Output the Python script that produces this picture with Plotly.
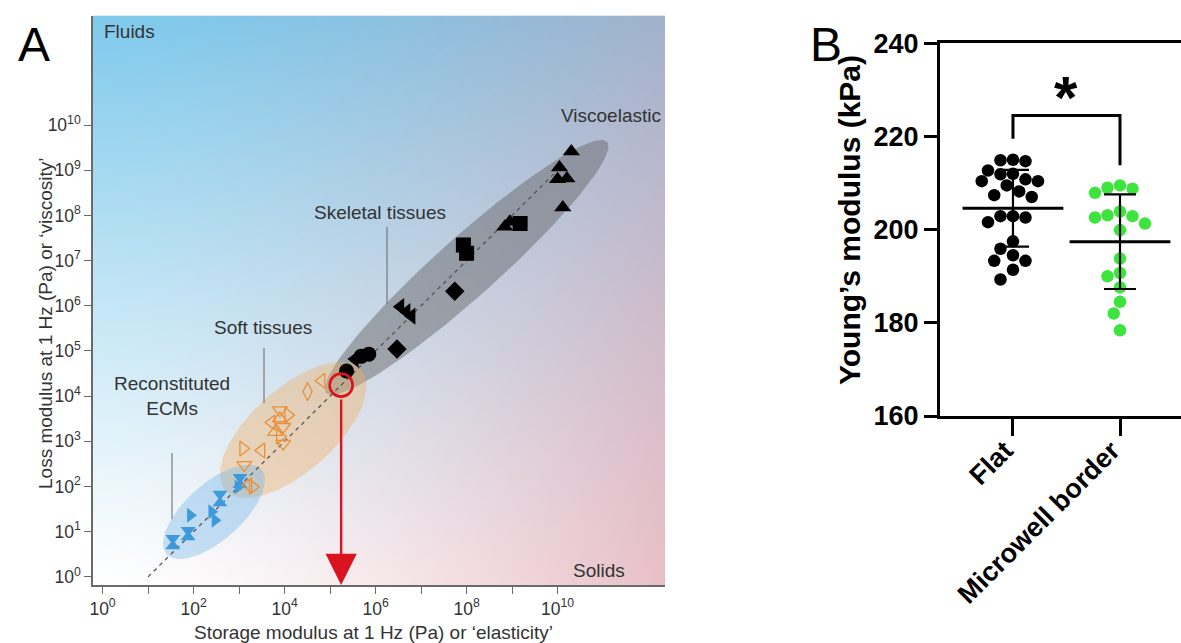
import numpy as np
import plotly.graph_objects as go
import zlib, struct, base64

# ---------------- DATA ----------------
# Panel A: storage modulus G' (Pa) and loss modulus G'' (Pa)
black_x = [2.0e10, 1.1e10, 1.0e10, 1.6e10, 1.3e10, 6.9e8, 8.9e8,
           8.5e7, 1.0e8, 1.5e9,
           5.5e7, 2.95e6,
           3.5e6, 4.8e6, 6.2e6, 3.5e5,
           2.3e5, 4.8e5, 7.1e5]
black_y = [2.6e9, 1.15e9, 6.3e8, 6.6e8, 1.5e8, 5.6e7, 7.2e7,
           2.2e7, 1.45e7, 6.6e7,
           2.1e6, 1.1e5,
           9.5e5, 7.4e5, 5.9e5, 6.6e4,
           3.6e4, 7.6e4, 8.5e4]
black_sym = ["triangle-up"] * 7 + ["square"] * 3 + ["diamond"] * 2 + \
            ["triangle-left"] * 4 + ["circle"] * 3

orange_x = [6.5e4, 3.2e4, 7.9e3, 7.9e3, 1.2e4, 5.2e3, 9.3e3, 6.2e3, 7.9e3,
            9.3e3, 1.23e3, 3.1e3, 1.3e3, 1.6e3, 2.0e3]
orange_y = [2.2e4, 1.26e4, 4.9e3, 3.2e3, 3.8e3, 2.6e3, 2.1e3, 1.6e3, 1.26e3,
            8.9e2, 6.9e2, 6.3e2, 3.0e2, 1.07e2, 9.8e1]
orange_sym = ["triangle-left", "diamond-tall", "triangle-down", "triangle-up",
              "triangle-right", "triangle-left", "triangle-down", "triangle-up",
              "triangle-right", "triangle-down", "triangle-right", "triangle-left",
              "triangle-down", "triangle-left", "triangle-right"]

blue_x = [1.05e3, 1.05e3, 9.5e2, 3.8e2, 3.8e2, 8.5e1, 2.5e2, 2.95e2,
          7.6e1, 7.6e1, 3.5e1, 3.5e1]
blue_y = [1.6e2, 1.1e2, 9.8e1, 6.8e1, 4.3e1, 2.3e1, 2.75e1, 1.8e1,
          1.07e1, 7.6e0, 7.2e0, 4.8e0]
blue_sym = ["triangle-down", "triangle-up", "triangle-right", "triangle-down",
            "triangle-up", "triangle-right", "triangle-right", "triangle-right",
            "triangle-down", "triangle-up", "triangle-down", "triangle-up"]

trend_x = [1.0e1, 1.1e10]
trend_y = [1.0e0, 1.1e9]

highlight_x = [1.75e5]
highlight_y = [1.75e4]

x_tick_vals = [10.0 ** k for k in range(0, 11)]
x_tick_text = ["10<sup>%d</sup>" % k if k % 2 == 0 else "" for k in range(0, 11)]
y_tick_vals = [10.0 ** k for k in range(0, 11)]
y_tick_text = ["10<sup>%d</sup>" % k for k in range(0, 11)]

# Panel B: Young's modulus (kPa)
b_categories = ["Flat", "Microwell border"]
flat_vals = [215.0, 214.7, 214.9, 212.7, 211.9, 212.0, 210.4, 210.8, 210.4, 209.5,
             208.2, 207.0, 207.4, 201.6, 202.6, 202.9, 202.9, 197.5, 195.9, 194.5,
             193.3, 193.3, 191.4, 189.3]
micro_vals = [208.8, 209.5, 209.0, 207.9, 202.9, 203.1, 203.9, 202.6, 201.3, 199.9,
              193.8, 190.0, 190.7, 187.6, 184.5, 182.0, 178.4]
b_tick_vals = [160, 180, 200, 220, 240]

# ---------------- GEOMETRY HELPERS ----------------
W, H = 1181, 643
def fx(px): return px / W
def fy(py): return 1 - py / H

A_L, A_R, A_T, A_B = 93, 665, 15.7, 585
A_XR = [-0.21, 12.36]
A_YR = [-0.18, 12.42]
B_L, B_R, B_T, B_B = 940, 1181, 43.3, 416
B_XR = [-0.682, 1.570]
B_YR = [160, 240]

def ellipse(cx, cy, a, b, ang_deg, n=120):
    t = np.linspace(0, 2 * np.pi, n)
    c, s = np.cos(np.radians(ang_deg)), np.sin(np.radians(ang_deg))
    ex = cx + a * np.cos(t) * c - b * np.sin(t) * s
    ey = cy + a * np.cos(t) * s + b * np.sin(t) * c
    return 10 ** ex, 10 ** ey

def png_uri(rgb):
    h, w, _ = rgb.shape
    raw = b"".join(b"\x00" + rgb[i].tobytes() for i in range(h))
    def chunk(t, d):
        return struct.pack(">I", len(d)) + t + d + struct.pack(">I", zlib.crc32(t + d) & 0xffffffff)
    png = (b"\x89PNG\r\n\x1a\n" + chunk(b"IHDR", struct.pack(">IIBBBBB", w, h, 8, 2, 0, 0, 0))
           + chunk(b"IDAT", zlib.compress(raw, 9)) + chunk(b"IEND", b""))
    return "data:image/png;base64," + base64.b64encode(png).decode()

# background gradient (blue top-left fading down, rose toward the right)
gw, gh = 160, 160
u = np.linspace(0, 1, gw)[None, :, None]
v = np.linspace(0, 1, gh)[:, None, None]
white = np.array([255, 255, 255], float)
blue = np.array([128, 202, 236], float)
rose = np.array([215, 140, 155], float)
a_b = (1 - v) ** 1.1
a_p = 0.55 * u ** 1.5 * (0.7 + 0.3 * v)
col = white * (1 - a_b) + blue * a_b
col = col * (1 - a_p) + rose * a_p
grad = np.clip(col, 0, 255).astype(np.uint8)
grad_uri = png_uri(grad)

fig = go.Figure()

# ellipses
for (cx, cy, a, b, ang, color) in [
        (8.0, 6.85, 4.15, 0.66, 42, "rgba(105,105,108,0.50)"),
        (4.19, 3.25, 2.0, 0.92, 42, "rgba(240,175,100,0.40)"),
        (2.45, 1.44, 1.4, 0.62, 42, "rgba(110,180,232,0.38)")]:
    exs, eys = ellipse(cx, cy, a, b, ang)
    fig.add_trace(go.Scatter(x=exs, y=eys, mode="lines", fill="toself", fillcolor=color,
                             line=dict(width=0), hoverinfo="skip", showlegend=False,
                             xaxis="x", yaxis="y"))

fig.add_trace(go.Scatter(x=trend_x, y=trend_y, mode="lines",
                         line=dict(color="#555555", width=1.3, dash="4px,4px"),
                         showlegend=False, xaxis="x", yaxis="y"))

fig.add_trace(go.Scatter(x=blue_x, y=blue_y, mode="markers",
                         marker=dict(symbol=blue_sym, size=13, color="#3E9BDB", line=dict(width=0)),
                         showlegend=False, xaxis="x", yaxis="y"))
fig.add_trace(go.Scatter(x=orange_x, y=orange_y, mode="markers",
                         marker=dict(symbol=[s + "-open" for s in orange_sym], size=13,
                                     color="#E8913A", line=dict(width=1.3, color="#E8913A")),
                         showlegend=False, xaxis="x", yaxis="y"))
fig.add_trace(go.Scatter(x=black_x, y=black_y, mode="markers",
                         marker=dict(symbol=black_sym, size=15, color="black", line=dict(width=0)),
                         showlegend=False, xaxis="x", yaxis="y"))
fig.add_trace(go.Scatter(x=highlight_x, y=highlight_y, mode="markers",
                         marker=dict(symbol="circle-open", size=23, color="#D9141E",
                                     line=dict(width=2.6, color="#D9141E")),
                         showlegend=False, xaxis="x", yaxis="y"))

# ---------------- Panel B ----------------
def swarm(vals, diam, px_per_unit):
    vals = np.asarray(vals, float)
    order = np.argsort(-vals)
    cands = sorted(set([0.0] + [s * k * diam / 2 for k in range(1, 10) for s in (1, -1)]),
                   key=lambda c: (abs(c), c))
    placed, offs = [], np.zeros(len(vals))
    for i in order:
        yy = vals[i] * px_per_unit
        for c in cands:
            if all((c - p) ** 2 + (yy - q) ** 2 >= (diam * 0.97) ** 2 for p, q in placed):
                offs[i] = c
                placed.append((c, yy))
                break
    return offs

x_px_per_unit = (B_R - B_L) / (B_XR[1] - B_XR[0])
y_px_per_unit = (B_B - B_T) / (B_YR[1] - B_YR[0])

for k, (vals, colr) in enumerate([(flat_vals, "black"), (micro_vals, "#3EE43E")]):
    offs = swarm(vals, 12.5, y_px_per_unit) / x_px_per_unit
    fig.add_trace(go.Scatter(x=k + offs, y=vals, mode="markers",
                             marker=dict(size=12.5, color=colr, line=dict(width=0)),
                             showlegend=False, xaxis="x2", yaxis="y2"))
for k, vals in enumerate([flat_vals, micro_vals]):
    m, sd = float(np.mean(vals)), float(np.std(vals, ddof=1))
    fig.add_trace(go.Scatter(x=[k], y=[m], mode="markers",
                             marker=dict(symbol="line-ew", size=72, line=dict(width=3, color="black")),
                             error_y=dict(type="data", array=[sd], width=16, thickness=2.2, color="black"),
                             showlegend=False, xaxis="x2", yaxis="y2"))

# ---------------- Layout ----------------
FONT = "Liberation Sans, Arial"
tickfontA = dict(family=FONT, size=17.5, color="#333333")
fig.update_layout(
    template="none",
    width=W, height=H, margin=dict(l=0, r=0, t=0, b=0, autoexpand=False),
    paper_bgcolor="white", plot_bgcolor="rgba(0,0,0,0)", showlegend=False,
    font=dict(family=FONT, color="#333333"),
    xaxis=dict(type="log", domain=[fx(A_L), fx(A_R)], range=A_XR, anchor="y",
               automargin=False,
               showgrid=False, zeroline=False, showline=True, linecolor="#6a6a6a", linewidth=1.5,
               ticks="outside", ticklen=7, tickwidth=1.3, tickcolor="#6a6a6a",
               tickvals=x_tick_vals, ticktext=x_tick_text, tickfont=tickfontA),
    yaxis=dict(type="log", domain=[fy(A_B), fy(A_T)], range=A_YR, anchor="x",
               automargin=False,
               showgrid=False, zeroline=False, showline=True, linecolor="#6a6a6a", linewidth=1.5,
               ticks="outside", ticklen=7, tickwidth=1.3, tickcolor="#6a6a6a",
               tickvals=y_tick_vals, ticktext=y_tick_text, tickfont=tickfontA),
    xaxis2=dict(domain=[fx(B_L), fx(B_R)], range=B_XR, anchor="y2", automargin=False,
                showgrid=False, zeroline=False, showline=True, mirror=True,
                linecolor="black", linewidth=3,
                ticks="outside", ticklen=17, tickwidth=3, tickcolor="black",
                tickvals=[0, 1], ticktext=b_categories, tickangle=-45,
                ticklabelstandoff=-12, ticklabelshift=-8,
                tickfont=dict(family=FONT, size=27, color="black", weight="bold")),
    yaxis2=dict(domain=[fy(B_B), fy(B_T)], range=B_YR, anchor="x2", automargin=False,
                showgrid=False, zeroline=False, showline=True, linecolor="black", linewidth=3,
                ticks="outside", ticklen=13, tickwidth=3, tickcolor="black",
                tickvals=b_tick_vals,
                tickfont=dict(family=FONT, size=27, color="black", weight="bold")),
)

fig.add_layout_image(dict(source=grad_uri, xref="x domain", yref="y domain", x=0, y=1,
                          sizex=1, sizey=1, sizing="stretch", xanchor="left", yanchor="top",
                          layer="below"))

ann = []
def txt(text, px, py, size=15, xanchor="left", color="#333333", **kw):
    ann.append(dict(text=text, x=fx(px), y=fy(py), xref="paper", yref="paper",
                    xanchor=xanchor, yanchor="middle", showarrow=False,
                    font=dict(size=size, color=color, family=kw.pop("family", FONT),
                              weight=kw.pop("weight", "normal")), **kw))

txt("Fluids", 102, 32, 19)
txt("Viscoelastic", 559, 115, 19)
txt("Skeletal tissues", 312, 212, 19)
txt("Soft tissues", 212, 327, 19)
txt("Reconstituted<br>ECMs", 172, 396, 19, xanchor="center", align="center")
txt("Solids", 571, 570, 19)
txt("A", 16, 45, 48, color="black")
txt("B", 808, 45, 48, color="black")
txt("Young’s modulus (kPa)", 850, 220, 30, xanchor="center", color="black", textangle=-90, weight="bold")
txt("Storage modulus at 1 Hz (Pa) or ‘elasticity’", 373, 632, 19, xanchor="center")
txt("Loss modulus at 1 Hz (Pa) or ‘viscosity’", 45, 323, 19, xanchor="center", textangle=-90)

# arrow from highlighted point down to the x axis
ann.append(dict(x=np.log10(highlight_x[0]), y=0, xref="x", yref="y domain",
                ax=0, ay=-(A_B - 398), axref="pixel", ayref="pixel", text="",
                showarrow=True, arrowhead=2, arrowsize=2.6, arrowwidth=2.4,
                arrowcolor="#D9141E", standoff=0))
# significance star
ann.append(dict(x=0.5, y=228.3, xref="x2", yref="y2", text="<b>*</b>", showarrow=False,
                font=dict(size=60, color="black", family=FONT)))
fig.update_layout(annotations=ann)

shapes = []
for (px, y0, y1) in [(387, 227, 304), (264, 348, 403), (172, 453, 519)]:
    shapes.append(dict(type="line", xref="paper", yref="paper", x0=fx(px), x1=fx(px),
                       y0=fy(y0), y1=fy(y1), line=dict(color="#666666", width=1)))
# bracket
shapes.append(dict(type="path", xref="x2", yref="y2",
                   path="M 0,219.5 L 0,224.5 L 1,224.5 L 1,213.8",
                   line=dict(color="black", width=3)))
fig.update_layout(shapes=shapes)

fig.write_html("out.html")
